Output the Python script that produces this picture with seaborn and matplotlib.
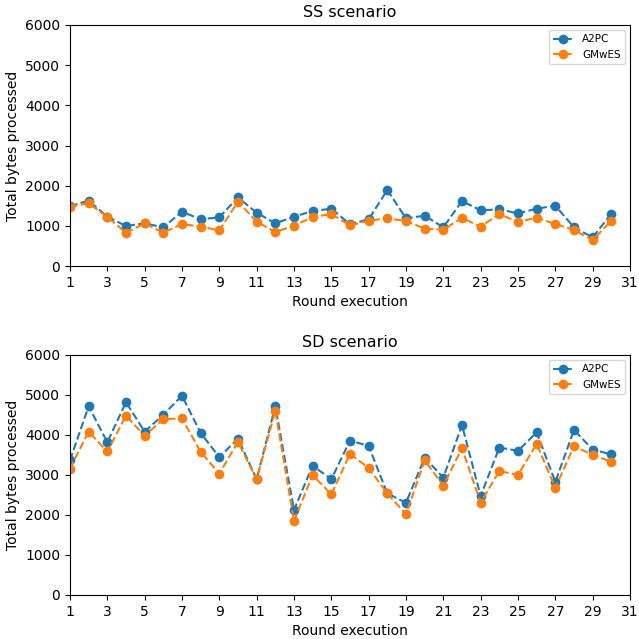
import matplotlib
matplotlib.use("Agg")
import matplotlib.pyplot as plt
import seaborn as sns
import numpy as np
import pandas as pd

rounds = list(range(1, 31))

ss_a2pc = [1490, 1626, 1228, 996, 1062, 963, 1352, 1162, 1212, 1709,
           1327, 1062, 1228, 1369, 1427, 1040, 1162, 1892, 1187, 1253,
           963, 1618, 1386, 1411, 1311, 1427, 1502, 963, 714, 1303]
ss_gmwes = [1480, 1560, 1220, 830, 1060, 830, 1046, 979, 888, 1602,
            1104, 846, 1004, 1220, 1294, 1012, 1128, 1187, 1120, 929,
            904, 1195, 979, 1294, 1095, 1203, 1046, 896, 647, 1128]

sd_a2pc = [3364, 4719, 3818, 4818, 4083, 4504, 4983, 4050, 3446, 3909,
           2893, 4719, 2124, 3231, 2893, 3860, 3727, 2537, 2306, 3430,
           2934, 4248, 2471, 3686, 3603, 4066, 2826, 4124, 3636, 3512]
sd_gmwes = [3157, 4083, 3587, 4479, 3983, 4397, 4413, 3579, 3033, 3826,
            2893, 4603, 1851, 3000, 2512, 3529, 3174, 2537, 2017, 3364,
            2736, 3669, 2306, 3099, 3000, 3777, 2678, 3719, 3504, 3331]

series_names = ["A2PC", "GMwES"]
titles = ["SS scenario", "SD scenario"]
xticks = list(range(1, 32, 2))
yticks = list(range(0, 6001, 1000))

fig = plt.figure(figsize=(6.39, 6.39), dpi=100)
ax1 = fig.add_axes([0.1095, 0.5837, 0.8764, 0.3772])
ax2 = fig.add_axes([0.1095, 0.0689, 0.8764, 0.3756])

colors = ["#1f77b4", "#ff7f0e"]
datasets = [(ss_a2pc, ss_gmwes), (sd_a2pc, sd_gmwes)]

for ax, (a, g), title in zip([ax1, ax2], datasets, titles):
    for vals, name, c in zip([a, g], series_names, colors):
        df = pd.DataFrame({"Round": rounds, "Bytes": vals})
        sns.lineplot(data=df, x="Round", y="Bytes", ax=ax, color=c,
                     linestyle="--", marker="o", markersize=7,
                     markeredgewidth=0, label=name)
    ax.set_xlim(1, 31)
    ax.set_ylim(0, 6000)
    ax.set_xticks(xticks)
    ax.set_yticks(yticks)
    ax.set_title(title, fontsize=11.5)
    ax.set_xlabel("Round execution", fontsize=10)
    ax.set_ylabel("Total bytes processed", fontsize=10)
    ax.legend(loc="upper right", fontsize=7.5)

fig.savefig("out.png", dpi=100)
